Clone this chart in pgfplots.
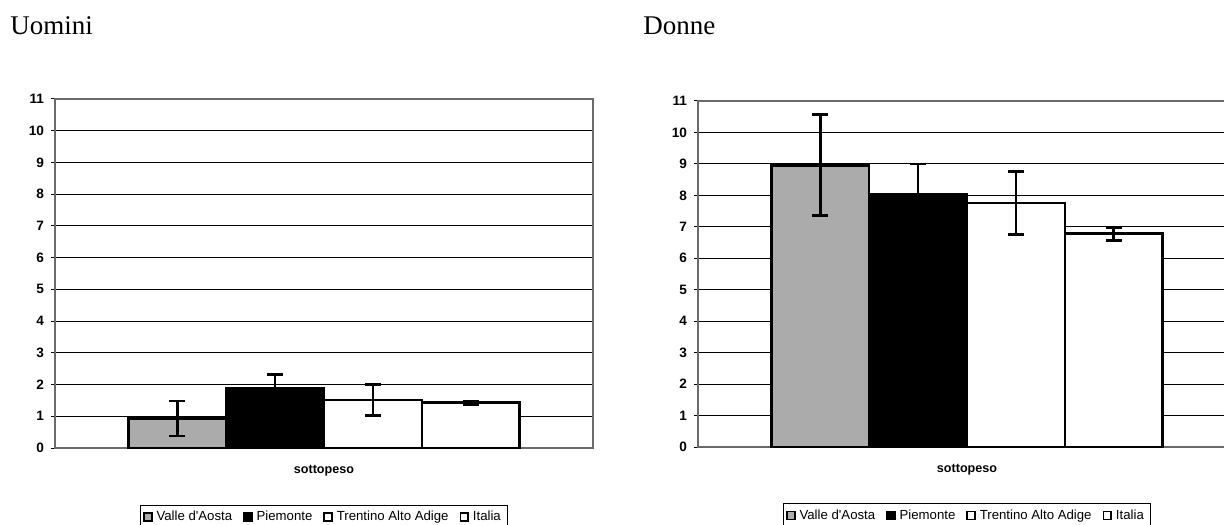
\documentclass[border=0pt]{standalone}
\usepackage{fontspec}
\setmainfont{Liberation Serif}
\setsansfont{Liberation Sans}
\usepackage{pgfplots}
\pgfplotsset{compat=1.18}
\definecolor{vdaGray}{HTML}{ABABAB}
\definecolor{frameGray}{HTML}{6A6A6A}
\pgfplotsset{
  sesso/.style={
    scale only axis, width=269pt, height=#1,
    anchor=south west,
    xmin=-1, xmax=1, ymin=0, ymax=11,
    ytick={0,...,11}, xtick=\empty,
    ymajorgrids, grid style={black, line width=0.5pt},
    axis line style={draw=frameGray, line width=0.9pt},
    tick style={black, line width=0.5pt},
    tick align=outside, major tick length=2pt, ytick pos=left,
    yticklabel style={font=\sffamily\bfseries\fontsize{6.8}{7}\selectfont},
    /pgf/number format/assume math mode=true,
    xlabel={sottopeso},
    xlabel style={font=\sffamily\bfseries\fontsize{6.3}{7}\selectfont,
      at={(axis description cs:0.5,0)}, anchor=center, yshift=-11.5pt},
    ybar, bar width=0.364,
    legend columns=4,
    legend style={at={(0.5,-0.163)}, anchor=north, draw=black, line width=0.5pt,
      font=\sffamily\fontsize{6.6}{7}\selectfont, inner xsep=1.5pt, inner ysep=1pt,
      /tikz/every odd column/.append style={column sep=0pt},
      /tikz/every even column/.append style={column sep=3.5pt}},
    legend image code/.code={\draw[##1, line width=0.9pt] (0pt,-1.7pt) rectangle (3.8pt,2.3pt);},
  },
  barra/.style={draw=black, line width=1.4pt, bar shift=0pt,
    error bars/y dir=both, error bars/y explicit,
    error bars/error bar style={black, line width=1.4pt},
    error bars/error mark options={black, rotate=90, mark size=4pt, line width=1.4pt}},
}
\begin{document}
\begin{tikzpicture}
\useasboundingbox (0,0) rectangle (612pt,262pt);
\node[anchor=base west, font=\fontsize{13.5}{16}\selectfont, inner sep=0pt] at (5pt,244.5pt) {Uomini};
\node[anchor=base west, font=\fontsize{13.5}{16}\selectfont, inner sep=0pt] at (321.5pt,244.5pt) {Donne};

% Uomini
\begin{axis}[sesso=174.5pt, at={(27.5pt,38pt)}]
\addplot[fill=vdaGray, barra] coordinates {(-0.546,0.93) +- (0,0.55)};
\addlegendentry{Valle d\textquotesingle Aosta}
\addplot[fill=black, barra] coordinates {(-0.182,1.87) +- (0,0.45)};
\addlegendentry{Piemonte}
\addplot[fill=white, barra] coordinates {(0.182,1.51) +- (0,0.48)};
\addlegendentry{Trentino Alto Adige}
\addplot[fill=white, barra] coordinates {(0.546,1.43) +- (0,0.05)};
\addlegendentry{Italia}
\end{axis}

% Donne
\begin{axis}[sesso=173pt, at={(349pt,38.5pt)}]
\addplot[fill=vdaGray, barra] coordinates {(-0.546,8.96) +- (0,1.60)};
\addlegendentry{Valle d\textquotesingle Aosta}
\addplot[fill=black, barra] coordinates {(-0.182,8.03) +- (0,0.97)};
\addlegendentry{Piemonte}
\addplot[fill=white, barra] coordinates {(0.182,7.76) +- (0,1.00)};
\addlegendentry{Trentino Alto Adige}
\addplot[fill=white, barra] coordinates {(0.546,6.78) +- (0,0.21)};
\addlegendentry{Italia}
\end{axis}
\end{tikzpicture}
\end{document}
